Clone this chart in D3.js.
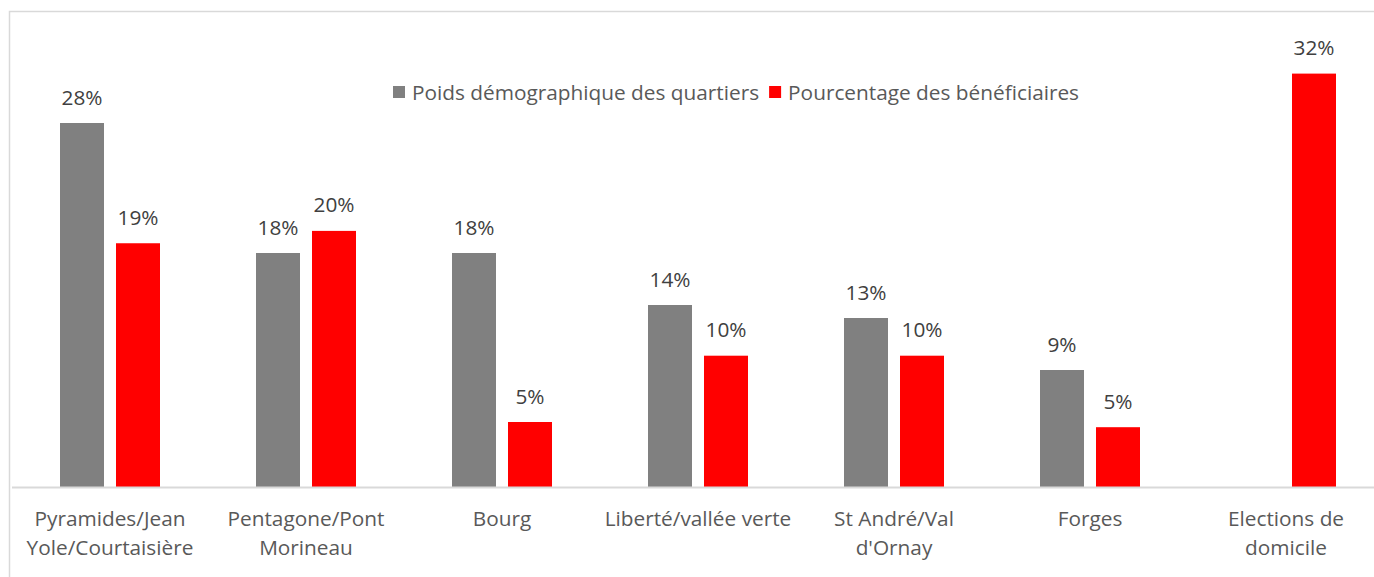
<!DOCTYPE html>
<html><head><meta charset="utf-8">
<script src="https://cdn.jsdelivr.net/npm/d3@7"></script>
<style>body{margin:0;background:#fff;} svg{display:block;}</style>
</head><body>
<svg id="c" width="1374" height="577"></svg>
<script>
const categories = [["Pyramides/Jean","Yole/Courtaisière"],["Pentagone/Pont","Morineau"],["Bourg"],["Liberté/vallée verte"],["St André/Val","d'Ornay"],["Forges"],["Elections de","domicile"]];
const seriesNames = ["Poids démographique des quartiers","Pourcentage des bénéficiaires"];
const poids = [28.0, 18.0, 18.0, 14.0, 13.0, 9.0, null];
const beneficiaires = [18.75, 19.7, 5.0, 10.1, 10.1, 4.6, 31.8];
const colors = ["#808080","#ff0000"];

const svg = d3.select("#c");
const font = "Open Sans, sans-serif";
const fs = 20.8;
svg.append("rect").attr("x",9.5).attr("y",11.5).attr("width",1400).attr("height",600)
  .attr("fill","#fff").attr("stroke","#d9d9d9").attr("stroke-width",1.5);

const x0 = d3.scaleBand().domain(d3.range(categories.length)).range([12,1384]).paddingInner(0).paddingOuter(0);
const y = d3.scaleLinear().domain([0,10]).range([487,357]);
const bw = 44, gap = 12;

const series = [poids, beneficiaires];
series.forEach((vals,si)=>{
  const g = svg.append("g");
  const data = vals.map((v,i)=>({v,i})).filter(d=>d.v!=null);
  const cx = d=> x0(d.i)+x0.bandwidth()/2 + (si===0 ? -gap/2-bw : gap/2);
  g.selectAll("rect").data(data).join("rect")
    .attr("x",cx).attr("width",bw)
    .attr("y",d=>y(d.v)).attr("height",d=>y(0)-y(d.v))
    .attr("fill",colors[si]);
  g.selectAll("text").data(data).join("text")
    .attr("x",d=>cx(d)+bw/2).attr("y",d=>y(d.v)-18.5)
    .attr("text-anchor","middle").attr("font-family",font).attr("font-size",fs)
    .attr("fill","#404040").text(d=>Math.round(d.v)+"%");
});

svg.append("line").attr("x1",12).attr("x2",1384).attr("y1",487.5).attr("y2",487.5)
  .attr("stroke","#d9d9d9").attr("stroke-width",2);

const cl = svg.append("g");
categories.forEach((lines,i)=>{
  const t = cl.append("text").attr("text-anchor","middle").attr("font-family",font).attr("font-size",fs).attr("fill","#595959");
  lines.forEach((l,k)=>t.append("tspan").attr("x",x0(i)+x0.bandwidth()/2).attr("y",526+k*29).text(l));
});

// legend
const lg = svg.append("g");
let lx = 393;
seriesNames.forEach((name,si)=>{
  lg.append("rect").attr("x",lx).attr("y",86).attr("width",12).attr("height",12).attr("fill",colors[si]);
  const t = lg.append("text").attr("x",lx+19).attr("y",99.5).attr("font-family",font).attr("font-size",fs).attr("fill","#595959").text(name);
  lx = lx + 19 + t.node().getComputedTextLength() + 10;
});
</script>
</body></html>
